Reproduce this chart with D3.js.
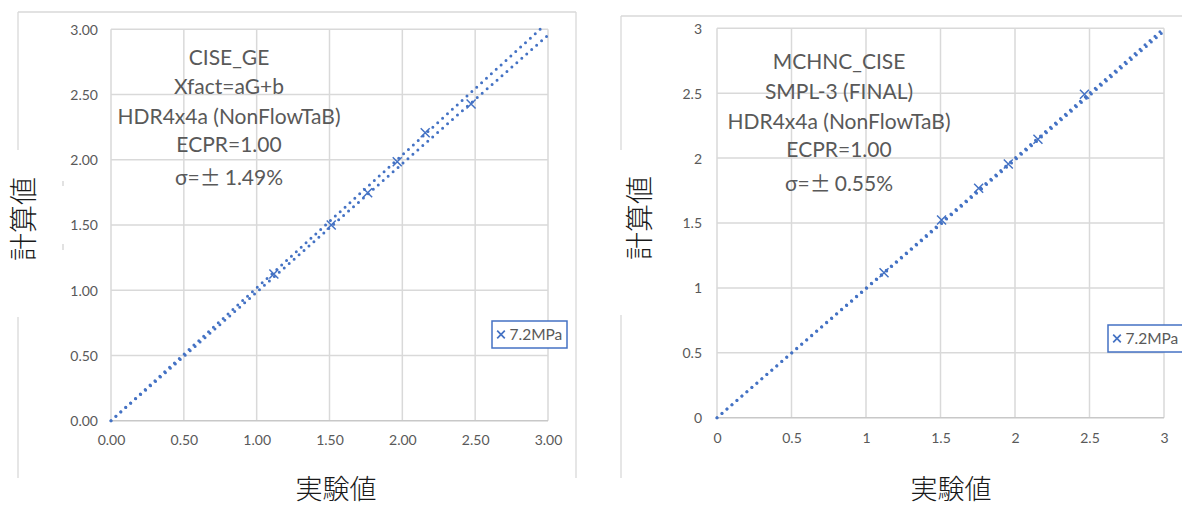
<!DOCTYPE html>
<html>
<head>
<meta charset="utf-8">
<script src="https://cdn.jsdelivr.net/npm/d3@7"></script>
<style>
  html, body { margin: 0; padding: 0; background: #fff; }
  svg { display: block; }
  .tick-label { font-family: Lato, "Open Sans", sans-serif; fill: #595959; }
  .note { font-family: Lato, "Open Sans", sans-serif; fill: #595959; }
  .axis-title { font-family: "Noto Sans CJK JP", sans-serif; font-weight: 300; fill: #1a1a1a; }
</style>
</head>
<body>
<svg id="chart" width="1182" height="506"></svg>
<script>
// ---- data ----
const tickValues = [0, 0.5, 1, 1.5, 2, 2.5, 3];
const seriesName = "7.2MPa";
const xTitle = "実験値";
const yTitle = "計算値";

// left panel: CISE_GE correlation
const leftMeasured   = [1.118, 1.512, 1.762, 1.965, 2.157, 2.472];
const leftCalculated = [1.124, 1.500, 1.747, 1.985, 2.207, 2.427];
const leftFitLines = [
  [[0, 0], [2.946, 3.0]],
  [[0, 0], [3.0, 2.955]]
];
const leftNotes = ["CISE_GE", "Xfact=aG+b", "HDR4x4a (NonFlowTaB)", "ECPR=1.00", "1.49%"];

// right panel: MCHNC_CISE correlation
const rightMeasured   = [1.121, 1.507, 1.756, 1.955, 2.154, 2.466];
const rightCalculated = [1.117, 1.523, 1.767, 1.955, 2.145, 2.492];
const rightFitLines = [
  [[0, 0], [3.0, 3.0]],
  [[0, 0], [3.0, 2.978]]
];
const rightNotes = ["MCHNC_CISE", "SMPL-3 (FINAL)", "HDR4x4a (NonFlowTaB)", "ECPR=1.00", "0.55%"];

const blue = "#4472C4";
const grid = "#d9d9d9";

const svg = d3.select("#chart");

function drawPanel(p) {
  const g = svg.append("g");

  // chart-area frame (top, left, right edges)
  g.append("line").attr("x1", p.frame.x0).attr("x2", p.frame.x1)
    .attr("y1", p.frame.y0).attr("y2", p.frame.y0)
    .attr("stroke", grid).attr("stroke-width", 1.3);
  g.append("line").attr("x1", p.frame.x0).attr("x2", p.frame.x0)
    .attr("y1", p.frame.y0).attr("y2", p.frame.y1)
    .attr("stroke", grid).attr("stroke-width", 1.3);
  if (p.frame.right) {
    g.append("line").attr("x1", p.frame.x1).attr("x2", p.frame.x1)
      .attr("y1", p.frame.y0).attr("y2", p.frame.y1)
      .attr("stroke", grid).attr("stroke-width", 1.3);
  }

  const x = d3.scaleLinear().domain([0, 3]).range([p.plot.x0, p.plot.x1]);
  const y = d3.scaleLinear().domain([0, 3]).range([p.plot.y1, p.plot.y0]);

  // gridlines
  g.append("g").selectAll("line.v").data(tickValues).join("line")
    .attr("x1", d => x(d)).attr("x2", d => x(d))
    .attr("y1", y(0)).attr("y2", y(3))
    .attr("stroke", grid).attr("stroke-width", 1.5);
  g.append("g").selectAll("line.h").data(tickValues).join("line")
    .attr("x1", x(0)).attr("x2", x(3))
    .attr("y1", d => y(d)).attr("y2", d => y(d))
    .attr("stroke", d => d === 0 ? "#c8c8c8" : grid).attr("stroke-width", 1.5);

  // axes (labels only, lines are the gridlines above)
  const xAxis = d3.axisBottom(x).tickValues(tickValues).tickFormat(p.fmt).tickSize(0).tickPadding(0);
  const yAxis = d3.axisLeft(y).tickValues(tickValues).tickFormat(p.fmt).tickSize(0).tickPadding(0);
  const gx = g.append("g").attr("transform", `translate(0,${p.xLabelY})`).call(xAxis);
  const gy = g.append("g").attr("transform", `translate(${p.yLabelX},0)`).call(yAxis);
  [gx, gy].forEach(a => {
    a.select(".domain").remove();
    a.selectAll("text").attr("class", "tick-label").attr("font-size", 14)
      .attr("dy", "0.35em");
  });
  gx.selectAll("text").attr("y", 0);

  // fitted lines (round-dot style)
  const line = d3.line().x(d => x(d[0])).y(d => y(d[1]));
  g.append("g").selectAll("path").data(p.fits).join("path")
    .attr("d", line)
    .attr("fill", "none").attr("stroke", blue).attr("stroke-width", 3)
    .attr("stroke-linecap", "round").attr("stroke-dasharray", "0 6.6");

  // data markers (×)
  const pts = p.xs.map((v, i) => [v, p.ys[i]]);
  const m = 4.5;
  const mk = g.append("g").selectAll("g").data(pts).join("g")
    .attr("transform", d => `translate(${x(d[0])},${y(d[1])})`);
  mk.append("path").attr("d", `M${-m},${-m}L${m},${m}M${-m},${m}L${m},${-m}`)
    .attr("stroke", blue).attr("stroke-width", 1.5).attr("fill", "none");

  // annotation block
  const notes = g.append("g").attr("class", "note").attr("font-size", p.noteSize)
    .attr("text-anchor", "middle");
  p.notes.forEach((t, i) => {
    const tx = notes.append("text").attr("x", p.noteX).attr("y", p.noteYs[i]).attr("dy", "0.35em");
    if (i === p.notes.length - 1) {
      tx.append("tspan").text("σ=");
      tx.append("tspan").attr("font-family", "'Noto Sans CJK JP', sans-serif").text("±");
      tx.append("tspan").attr("dx", 4).text(t);
    } else {
      tx.text(t);
    }
  });

  // legend
  const lg = g.append("g").attr("transform", `translate(${p.legend.x},${p.legend.y})`);
  lg.append("rect").attr("width", p.legend.w).attr("height", p.legend.h)
    .attr("fill", "#fff").attr("stroke", blue).attr("stroke-width", 1.5);
  const lm = 3.8;
  lg.append("path")
    .attr("transform", `translate(9,${p.legend.h / 2})`)
    .attr("d", `M${-lm},${-lm}L${lm},${lm}M${-lm},${lm}L${lm},${-lm}`)
    .attr("stroke", blue).attr("stroke-width", 1.7);
  lg.append("text").attr("class", "note").attr("x", 17.5).attr("y", p.legend.h / 2)
    .attr("dy", "0.35em").attr("font-size", 15.5).text(seriesName);

  // axis titles, each on its own white box
  g.append("rect").attr("x", p.yTitle.x - 24).attr("y", p.yTitle.boxY0)
    .attr("width", 48).attr("height", p.yTitle.boxY1 - p.yTitle.boxY0).attr("fill", "#fff");
  if (p.yTitle.edgeMarks) {
    p.yTitle.edgeMarks.forEach(e => {
      g.append("line").attr("x1", e[0]).attr("x2", e[0]).attr("y1", e[1]).attr("y2", e[2])
        .attr("stroke", "#cfcfcf").attr("stroke-width", 1.2);
    });
  }
  g.append("text").attr("class", "axis-title").attr("font-size", 28)
    .attr("text-anchor", "middle").attr("dy", "0.35em")
    .attr("transform", `translate(${p.yTitle.x},${p.yTitle.y}) rotate(-90)`)
    .text(yTitle);
  g.append("text").attr("class", "axis-title").attr("font-size", 27)
    .attr("text-anchor", "middle").attr("dy", "0.35em")
    .attr("x", p.xTitle.x).attr("y", p.xTitle.y)
    .text(xTitle);
}

drawPanel({
  frame: { x0: 18, x1: 576, y0: 12, y1: 478, right: true },
  plot: { x0: 111, x1: 548, y0: 29.3, y1: 420.7 },
  fmt: d3.format(".2f"),
  xLabelY: 440, yLabelX: 98,
  xs: leftMeasured, ys: leftCalculated, fits: leftFitLines,
  notes: leftNotes, noteX: 229, noteYs: [58, 87, 117, 145, 178], noteSize: 21,
  legend: { x: 492, y: 321, w: 75, h: 27 },
  yTitle: { x: 24, y: 219, boxY0: 150, boxY1: 317, edgeMarks: [[63, 181, 186], [63, 244, 250]] },
  xTitle: { x: 336, y: 490 }
});

drawPanel({
  frame: { x0: 621, x1: 1190, y0: 16, y1: 478, right: false },
  plot: { x0: 717, x1: 1164, y0: 28.3, y1: 417.7 },
  fmt: d3.format("~g"),
  xLabelY: 438, yLabelX: 702,
  xs: rightMeasured, ys: rightCalculated, fits: rightFitLines,
  notes: rightNotes, noteX: 839, noteYs: [62, 92, 122, 150, 184], noteSize: 21,
  legend: { x: 1108, y: 325, w: 76, h: 27 },
  yTitle: { x: 640, y: 218, boxY0: 150, boxY1: 315 },
  xTitle: { x: 951, y: 490 }
});
</script>
</body>
</html>
